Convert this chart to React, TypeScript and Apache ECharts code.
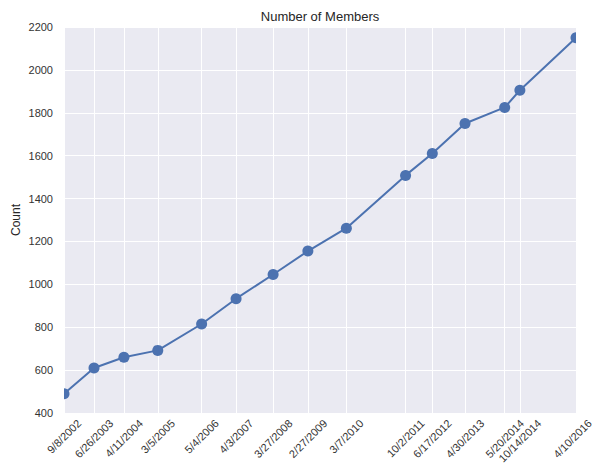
import React, { useEffect, useRef } from "react";
import * as echarts from "echarts";

const dates = [
  "2002-09-08", "2003-06-26", "2004-04-11", "2005-03-05", "2006-05-04",
  "2007-04-03", "2008-03-27", "2009-02-27", "2010-03-07", "2011-10-02",
  "2012-06-17", "2013-04-30", "2014-05-20", "2014-10-14", "2016-04-10",
];
const dateLabels = [
  "9/8/2002", "6/26/2003", "4/11/2004", "3/5/2005", "5/4/2006",
  "4/3/2007", "3/27/2008", "2/27/2009", "3/7/2010", "10/2/2011",
  "6/17/2012", "4/30/2013", "5/20/2014", "10/14/2014", "4/10/2016",
];
const counts = [490, 610, 660, 692, 815, 933, 1046, 1155, 1262, 1508, 1610, 1750, 1825, 1905, 2150];
const yTicks = [400, 600, 800, 1000, 1200, 1400, 1600, 1800, 2000, 2200];
const titleText = "Number of Members";
const yName = "Count";

export default function App() {
  const ref = useRef<HTMLDivElement>(null);
  useEffect(() => {
    document.body.style.margin = "0";
    if (!ref.current) return;
    const chart = echarts.init(ref.current, undefined, { renderer: "svg" });
    const ts = dates.map((d) => Date.parse(d + "T00:00:00Z"));
    const gridLeft = 64, gridRight = 20, gridTop = 27, gridBottom = 52;
    const W = 596, H = 465;
    const font = "Liberation Sans, Arial, sans-serif";
    const labelSize = 11;
    const baseGraphic: any[] = [
      {
        type: "text", x: (gridLeft + W - gridRight) / 2, y: 16,
        style: { text: titleText, textAlign: "center", textVerticalAlign: "middle",
          fontSize: 13, fontFamily: font, fill: "#262626" },
      },
      {
        type: "rect", z: 100, silent: true,
        shape: { x: gridLeft - 7, y: gridTop, width: 7, height: H - gridTop - gridBottom },
        style: { fill: "#ffffff" },
      },
      {
        type: "rect", z: 100, silent: true,
        shape: { x: W - gridRight, y: gridTop - 8, width: gridRight, height: H - gridTop - gridBottom + 8 },
        style: { fill: "#ffffff" },
      },
    ];
    chart.setOption({
      animation: false,
      backgroundColor: "#ffffff",
      grid: {
        left: gridLeft, right: gridRight, top: gridTop, bottom: gridBottom,
        show: true, backgroundColor: "#EAEAF2", borderWidth: 0,
        containLabel: false,
        outerBoundsMode: "none",
      },
      graphic: baseGraphic,
      xAxis: {
        type: "value",
        min: ts[0],
        max: ts[ts.length - 1],
        axisLine: { show: false },
        axisTick: { show: false, customValues: ts },
        axisLabel: { show: false, customValues: ts },
        splitLine: { show: true, lineStyle: { color: "#ffffff", width: 1 } },
      },
      yAxis: {
        type: "value",
        min: yTicks[0],
        max: yTicks[yTicks.length - 1],
        interval: 200,
        name: yName,
        nameLocation: "middle",
        nameGap: 42,
        nameMoveOverlap: false,
        nameTextStyle: { fontSize: 12, fontFamily: font, color: "#262626" },
        axisLine: { show: false },
        axisTick: { show: false },
        axisLabel: {
          margin: 11, fontSize: labelSize, fontFamily: font, color: "#333333",
          formatter: (v: number) => String(v),
        },
        splitLine: { show: true, lineStyle: { color: "#ffffff", width: 1 } },
      },
      series: [
        {
          type: "line",
          data: ts.map((t, i) => [t, counts[i]]),
          symbol: "circle",
          symbolSize: 11,
          showAllSymbol: true,
          clip: false,
          lineStyle: { color: "#4C72B0", width: 2 },
          itemStyle: { color: "#4C72B0" },
          z: 3,
        },
      ],
    });

    // x tick labels: matplotlib-style rotated labels centred on their ticks
    const ctx = document.createElement("canvas").getContext("2d");
    const measure = (s: string) => {
      if (!ctx) return s.length * 5.6;
      ctx.font = `${labelSize}px "Liberation Sans", Arial, sans-serif`;
      return ctx.measureText(s).width;
    };
    const axisY = H - gridBottom;
    const h = 12;
    const labelGraphic = ts.map((t, i) => {
      let px = chart.convertToPixel({ xAxisIndex: 0 }, t) as number;
      const w = measure(dateLabels[i]);
      const half = 0.3536 * (w + h);
      if (px + half > W - 2) px = W - 2 - half;
      return {
        type: "text",
        x: px,
        y: axisY + 4 + half,
        rotation: Math.PI / 4,
        style: {
          text: dateLabels[i], textAlign: "center", textVerticalAlign: "middle",
          fontSize: labelSize, fontFamily: font, fill: "#333333",
        },
      };
    });
    chart.setOption({ graphic: [...baseGraphic, ...labelGraphic] });
    return () => chart.dispose();
  }, []);
  return <div ref={ref} style={{ width: 596, height: 465 }} />;
}
